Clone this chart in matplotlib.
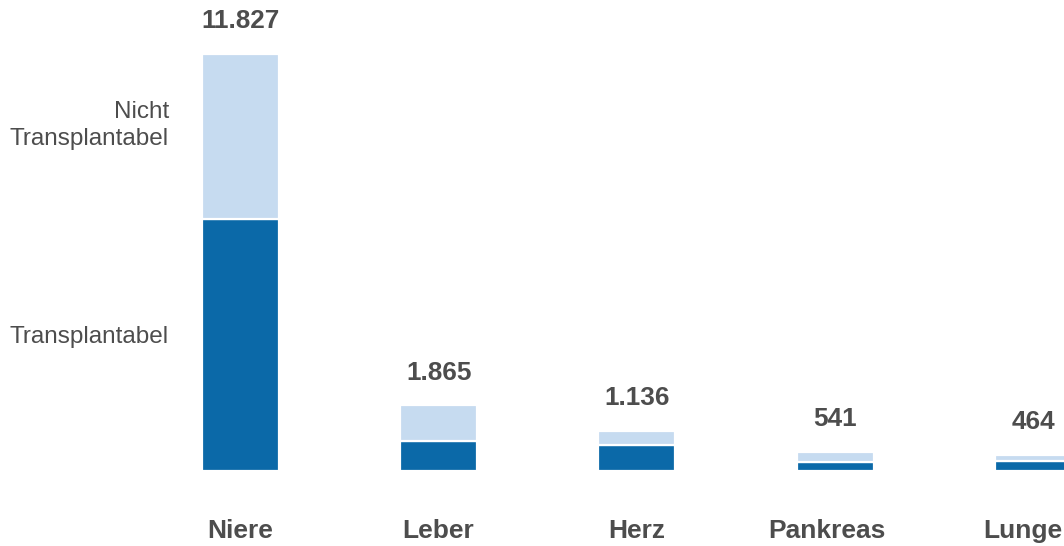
import numpy as np
import matplotlib.pyplot as plt

plt.rcParams['font.family'] = ['Liberation Sans', 'DejaVu Sans']

# Wartelisten-Daten
organe = ['Niere', 'Leber', 'Herz', 'Pankreas', 'Lunge']
transplantabel = [7160, 860, 740, 245, 275]
nicht_transplantabel = [4667, 1005, 396, 296, 189]

dunkel = '#0b69a8'
hell = '#c6dbf0'
textfarbe = '#4d4d4d'

gesamt = np.array(transplantabel) + np.array(nicht_transplantabel)
x = np.arange(len(organe))

# horizontale Verschiebung der Organnamen (Pixel), wie im Original
versatz = [0, -1, 0, -8, -10]

fig = plt.figure(figsize=(10.64, 5.46), dpi=100)
# Achse ueber die ganze Breite, Lunge wird am rechten Rand abgeschnitten
ax = fig.add_axes([0, 75 / 546, 1, 417 / 546])

ax.bar(x, transplantabel, width=0.3885, color=dunkel, edgecolor='white', linewidth=1.6)
ax.bar(x, nicht_transplantabel, width=0.3885, bottom=transplantabel, color=hell,
       edgecolor='white', linewidth=1.6)

ax.set_xlim(-240.5 / 198.2, (1064 - 240.5) / 198.2)
ax.set_ylim(0, gesamt[0])
ax.axis('off')

for i, g in enumerate(gesamt):
    wert = f'{g:,}'.replace(',', '.')
    ax.annotate(wert, (i, g), xytext=(0, 18.4), textcoords='offset points',
                ha='center', va='baseline', fontsize=18.8, fontweight='bold',
                color=textfarbe, annotation_clip=False)
    ax.annotate(organe[i], (i, 0), xytext=(versatz[i] * 0.72, -48.2),
                textcoords='offset points', ha='center', va='baseline',
                fontsize=19, fontweight='bold', color=textfarbe,
                annotation_clip=False)

# Segmentbeschriftung links
fig.text(169 / 1064, 1 - 118.3 / 546, 'Nicht', ha='right', va='baseline',
         fontsize=17.5, color=textfarbe)
fig.text(169 / 1064, 1 - 145 / 546, 'Transplantabel', ha='right', va='baseline',
         fontsize=17.5, color=textfarbe)
fig.text(169 / 1064, 1 - 343.3 / 546, 'Transplantabel', ha='right', va='baseline',
         fontsize=17.5, color=textfarbe)

fig.savefig('out.png', dpi=100)
